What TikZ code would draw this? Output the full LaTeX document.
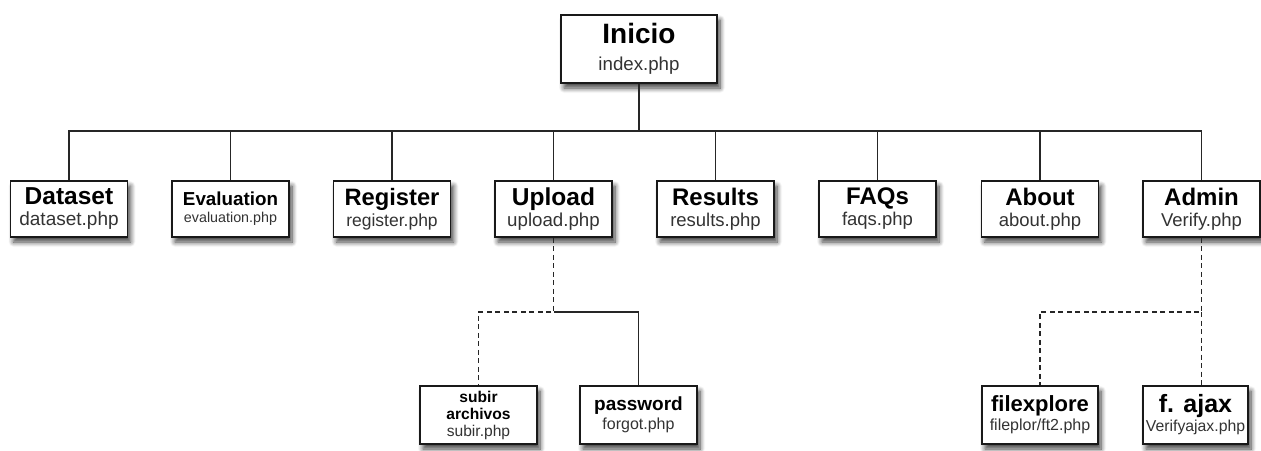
\documentclass[tikz,border=0pt]{standalone}
\usepackage{fontspec}
\setmainfont{Liberation Sans}
\usetikzlibrary{shadows.blur}
\tikzset{
  box/.style={draw=black!90, line width=1.8pt, fill=white, inner sep=0pt, align=center,
    blur shadow={shadow xshift=3pt, shadow yshift=-5pt, shadow blur radius=5pt, shadow blur steps=8, shadow opacity=75}},
  lvl/.style={box, minimum width=117pt, minimum height=56pt},
  leaf/.style={box, minimum height=58pt},
  link/.style={line width=1.6pt, draw=black!85},
  dlink/.style={link, dash pattern=on 5pt off 3.5pt},
}
\newcommand\ttl[2]{{\fontsize{#1}{#1}\selectfont\bfseries #2}}
\newcommand\sbt[2]{{\fontsize{#1}{#1}\selectfont\color{black!80}#2}}
\begin{document}
\begin{tikzpicture}[x=1pt,y=-1pt]
\useasboundingbox (0,0) rectangle (1261,450);
% root
\node[box, minimum width=156pt, minimum height=68pt, font=\fontsize{18.7}{27}\selectfont] (inicio) at (639,49)
  {\ttl{28}{Inicio}\\\sbt{18.7}{index.php}};
% level 1
\node[lvl, font=\fontsize{18.5}{21}\selectfont] (dataset) at (69,209) {\ttl{24.5}{Dataset}\\\sbt{19}{dataset.php}};
\node[lvl, font=\fontsize{14.3}{17}\selectfont] (eval) at (230.5,209) {\ttl{18.8}{Evaluation}\\\sbt{14.3}{evaluation.php}};
\node[lvl, font=\fontsize{18}{21}\selectfont] (register) at (392,209) {\ttl{23.7}{Register}\\\sbt{17.5}{register.php}};
\node[lvl, font=\fontsize{18.5}{21}\selectfont] (upload) at (553.5,209) {\ttl{24.5}{Upload}\\\sbt{18.7}{upload.php}};
\node[lvl, font=\fontsize{18.5}{21}\selectfont] (results) at (715.5,209) {\ttl{24}{Results}\\\sbt{18.5}{results.php}};
\node[lvl, font=\fontsize{18.5}{21}\selectfont] (faqs) at (877.5,209) {\ttl{24}{FAQs}\\\sbt{18.5}{faqs.php}};
\node[lvl, font=\fontsize{18.5}{21}\selectfont] (about) at (1040,209) {\ttl{24}{About}\\\sbt{18.5}{about.php}};
\node[lvl, font=\fontsize{18.5}{21}\selectfont] (admin) at (1201.5,209) {\ttl{24}{Admin}\\\sbt{18.5}{Verify.php}};
% leaves
\node[leaf, minimum width=117pt, font=\fontsize{15.6}{17}\selectfont] (subir) at (478.5,415)
  {\ttl{15.6}{subir}\\\ttl{15.6}{archivos}\\\sbt{15.6}{subir.php}};
\node[leaf, minimum width=117pt, font=\fontsize{16}{19}\selectfont] (password) at (638.5,415)
  {\ttl{19}{password}\\\sbt{16}{forgot.php}};
\node[leaf, minimum width=116pt, font=\fontsize{16}{19}\selectfont] (filexplore) at (1040,415)
  {\ttl{22}{filexplore}\\\sbt{16}{fileplor/ft2.php}};
\node[leaf, minimum width=105pt, font=\fontsize{15.8}{19}\selectfont] (fajax) at (1195.5,415)
  {\ttl{25}{f. ajax}\\\sbt{15.8}{Verifyajax.php}};
% connectors
\coordinate (bus) at (639,131);
\draw[link] (inicio.south) -- (bus);
\draw[link] (dataset.north) -- (dataset.north |- bus) -- (admin.north |- bus) -- (admin.north);
\foreach \n in {eval,register,upload,results,faqs,about}
  \draw[link] (\n.north) -- (\n.north |- bus);
\coordinate (uj) at (553.5,312);
\draw[dlink] (upload.south) -- (uj) -| (subir.north);
\draw[link] (uj) -| (password.north);
\coordinate (aj) at (1201.5,312);
\draw[dlink] (admin.south) -- (aj) -| (filexplore.north);
\draw[dlink] (aj) -- (aj |- fajax.north);
\end{tikzpicture}
\end{document}
